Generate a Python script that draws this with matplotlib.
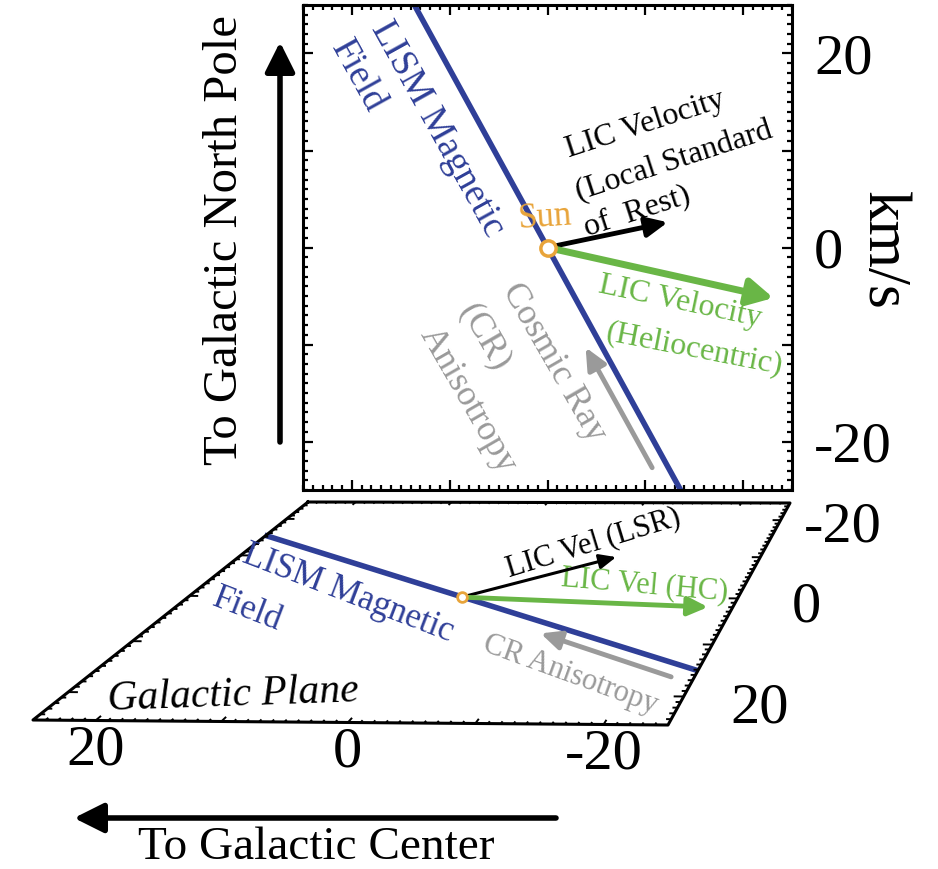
import numpy as np
import matplotlib
matplotlib.use('Agg')
import matplotlib.pyplot as plt
from matplotlib.ticker import MultipleLocator, FuncFormatter
from matplotlib.collections import LineCollection

plt.rcParams.update({'font.family': ['Liberation Serif', 'DejaVu Serif'],
                     'axes.unicode_minus': False})

W, H = 938, 869
BLUE, GREEN, GRAY, ORANGE = '#2f3f98', '#69b646', '#9a9a9a', '#e8a43a'

# ── data (km/s) ──
tick_vals = [20, 0, -20]
# side view: x (toward galactic center, +left), y (toward north pole)
field_top_x, field_top_y = [14.7, -14.7], [27.0, -27.0]
lsr_top = (-12.3, 2.6)
hc_top = (-23.1, -5.2)
cr_top_tail, cr_top_tip = (-10.7, -22.7), (-3.9, -10.3)
# plane view: x (toward galactic center), z (depth)
field_bot_x, field_bot_z = [24.8, -24.7], [-15.2, 15.0]
lsr_bot = (-11.3, -9.9)
hc_bot = (-22.8, 2.0)
cr_bot_tail, cr_bot_tip = (-23.1, 16.4), (-9.7, 7.9)

# plane outline (data) and where its corners land on the page (px)
PLANE = [(25, -25), (-25, -25), (-25, 25), (25, 25)]
CORNERS = [(308, 502), (790, 503), (668, 725), (33, 720)]


def homography(src, dst):
    A, b = [], []
    for (x, y), (X, Y) in zip(src, dst):
        A.append([x, y, 1, 0, 0, 0, -X * x, -X * y]); b.append(X)
        A.append([0, 0, 0, x, y, 1, -Y * x, -Y * y]); b.append(Y)
    h = np.linalg.solve(np.array(A, float), np.array(b, float))
    return np.append(h, 1).reshape(3, 3)


Hm = homography(PLANE, CORNERS)


def proj(u, w):
    u = np.atleast_1d(np.asarray(u, float)); w = np.atleast_1d(np.asarray(w, float))
    p = Hm @ np.vstack([u, w, np.ones_like(u)])
    return p[0] / p[2], p[1] / p[2]


def arrow(ax, tip, tail, color, lw, hl, hw):
    ax.annotate('', xy=tip, xytext=tail, zorder=4,
                arrowprops=dict(arrowstyle=f'-|>,head_length={hl},head_width={hw}',
                                lw=lw, color=color, shrinkA=0, shrinkB=0,
                                mutation_scale=20))


fig = plt.figure(figsize=(W / 100, H / 100), dpi=100)

# ── top panel: view from the side ──
ax = fig.add_axes([303 / W, 1 - 490 / H, 489 / W, 485 / H])
ax.set_xlim(25, -25); ax.set_ylim(-25, 25)
for a in (ax.xaxis, ax.yaxis):
    a.set_major_locator(MultipleLocator(10)); a.set_minor_locator(MultipleLocator(1))
ax.yaxis.set_major_formatter(FuncFormatter(lambda v, p: f'{v:.0f}' if v % 20 == 0 else ''))
ax.tick_params(which='both', direction='in', top=True, right=True, width=1.6,
               labelbottom=False, labelleft=False, labelright=True,
               labelsize=42, pad=16)
ax.tick_params(which='major', length=7)
ax.tick_params(which='minor', length=3.5)
for s in ax.spines.values():
    s.set_linewidth(2.2)

ax.plot(field_top_x, field_top_y, color=BLUE, lw=4, zorder=2)
arrow(ax, lsr_top, (0, 0), 'black', 3.5, 0.65, 0.3)
arrow(ax, hc_top, (0, 0), GREEN, 5, 0.75, 0.4)
arrow(ax, cr_top_tip, cr_top_tail, GRAY, 3.5, 0.65, 0.3)
ax.plot(0, 0, 'o', ms=11, mfc='white', mec=ORANGE, mew=2.5, zorder=5)

ax.text(11.3, 12.2, 'LISM Magnetic', color=BLUE, fontsize=27, rotation=-61,
        ha='center', va='center')
ax.text(19.4, 17.7, 'Field', color=BLUE, fontsize=27, rotation=-61,
        ha='center', va='center')
ax.text(-10.0, 12.7, 'LIC Velocity', fontsize=23, rotation=18, ha='center', va='center')
ax.text(-13.0, 8.9, '(Local Standard', fontsize=23, rotation=18, ha='center', va='center')
ax.text(-9.2, 3.7, 'of  Rest)', fontsize=23, rotation=18, ha='center', va='center')
ax.text(0.3, 3.1, 'Sun', color=ORANGE, fontsize=25, rotation=4, ha='center', va='center')
ax.text(-13.6, -5.6, 'LIC Velocity', color=GREEN, fontsize=23, rotation=-12,
        ha='center', va='center')
ax.text(-15.0, -10.5, '(Heliocentric)', color=GREEN, fontsize=23, rotation=-11,
        ha='center', va='center')
ax.text(-0.6, -11.9, 'Cosmic Ray', color=GRAY, fontsize=26, rotation=-60,
        ha='center', va='center')
ax.text(6.5, -9.2, '(CR)', color=GRAY, fontsize=26, rotation=-60, ha='center', va='center')
ax.text(8.2, -15.7, 'Anisotropy', color=GRAY, fontsize=26, rotation=-60,
        ha='center', va='center')

fig.text(883 / W, 1 - 250 / H, 'km/s', fontsize=44, rotation=270, ha='center', va='center')

# ── page overlay in pixel units: arrows, axis titles, galactic plane ──
axp = fig.add_axes([0, 0, 1, 1])
axp.set_xlim(0, W); axp.set_ylim(H, 0); axp.axis('off')

axp.annotate('', xy=(280, 42), xytext=(280, 442),
             arrowprops=dict(arrowstyle='-|>,head_length=0.9,head_width=0.45', lw=4,
                             color='black', shrinkA=0, shrinkB=0, mutation_scale=20))
axp.text(225, 240, 'To Galactic North Pole', fontsize=35, rotation=90,
         ha='center', va='center')
axp.annotate('', xy=(74, 818), xytext=(556, 818),
             arrowprops=dict(arrowstyle='-|>,head_length=0.9,head_width=0.45', lw=4,
                             color='black', shrinkA=0, shrinkB=0, mutation_scale=20))
axp.text(316, 848, 'To Galactic Center', fontsize=34, ha='center', va='center')

# plane outline
cu = [c[0] for c in PLANE] + [PLANE[0][0]]
cw = [c[1] for c in PLANE] + [PLANE[0][1]]
px, py = proj(cu, cw)
axp.plot(px, py, color='black', lw=2.2, zorder=3)

# plane ticks (inward, every 1 km/s, major every 10)
segs = []
for k in range(-24, 25):
    L = 0.8 if k % 10 == 0 else 0.4
    for (u0, w0, u1, w1) in [(k, 25, k, 25 - L), (k, -25, k, -25 + L),
                             (25, k, 25 - L, k), (-25, k, -25 + L, k)]:
        x0, y0 = proj(u0, w0); x1, y1 = proj(u1, w1)
        segs.append([(x0[0], y0[0]), (x1[0], y1[0])])
axp.add_collection(LineCollection(segs, colors='black', linewidths=1.4, zorder=3))

fx, fy = proj(field_bot_x, field_bot_z)
axp.plot(fx, fy, color=BLUE, lw=4, zorder=2)
o = proj(0, 0)
o = (o[0][0], o[1][0])


def pt(p):
    x, y = proj(*p)
    return (x[0], y[0])


arrow(axp, pt(lsr_bot), o, 'black', 2.2, 0.5, 0.22)
arrow(axp, pt(hc_bot), o, GREEN, 3.5, 0.6, 0.28)
arrow(axp, pt(cr_bot_tip), pt(cr_bot_tail), GRAY, 3.5, 0.6, 0.28)
axp.plot(*o, 'o', ms=7, mfc='white', mec=ORANGE, mew=2, zorder=5)

for v in tick_vals:
    x, y = proj(v, 25)
    axp.text(x[0], y[0] + 30, str(v), fontsize=42, ha='center', va='center')
    x, y = proj(-31.5, v + 2)
    axp.text(x[0], y[0], str(v), fontsize=42, ha='center', va='center')

axp.text(348, 594, 'LISM Magnetic', color=BLUE, fontsize=25, rotation=-21,
         ha='center', va='center')
axp.text(247, 610, 'Field', color=BLUE, fontsize=25, rotation=-21, ha='center', va='center')
axp.text(233, 695, 'Galactic Plane', fontsize=30, style='italic', rotation=2,
         ha='center', va='center')
axp.text(593, 543, 'LIC Vel (LSR)', fontsize=22, rotation=17, ha='center', va='center')
axp.text(645, 585, 'LIC Vel (HC)', color=GREEN, fontsize=22, rotation=-5,
         ha='center', va='center')
axp.text(570, 675, 'CR Anisotropy', color=GRAY, fontsize=22, rotation=-20,
         ha='center', va='center')

fig.savefig('out.png', dpi=100)
